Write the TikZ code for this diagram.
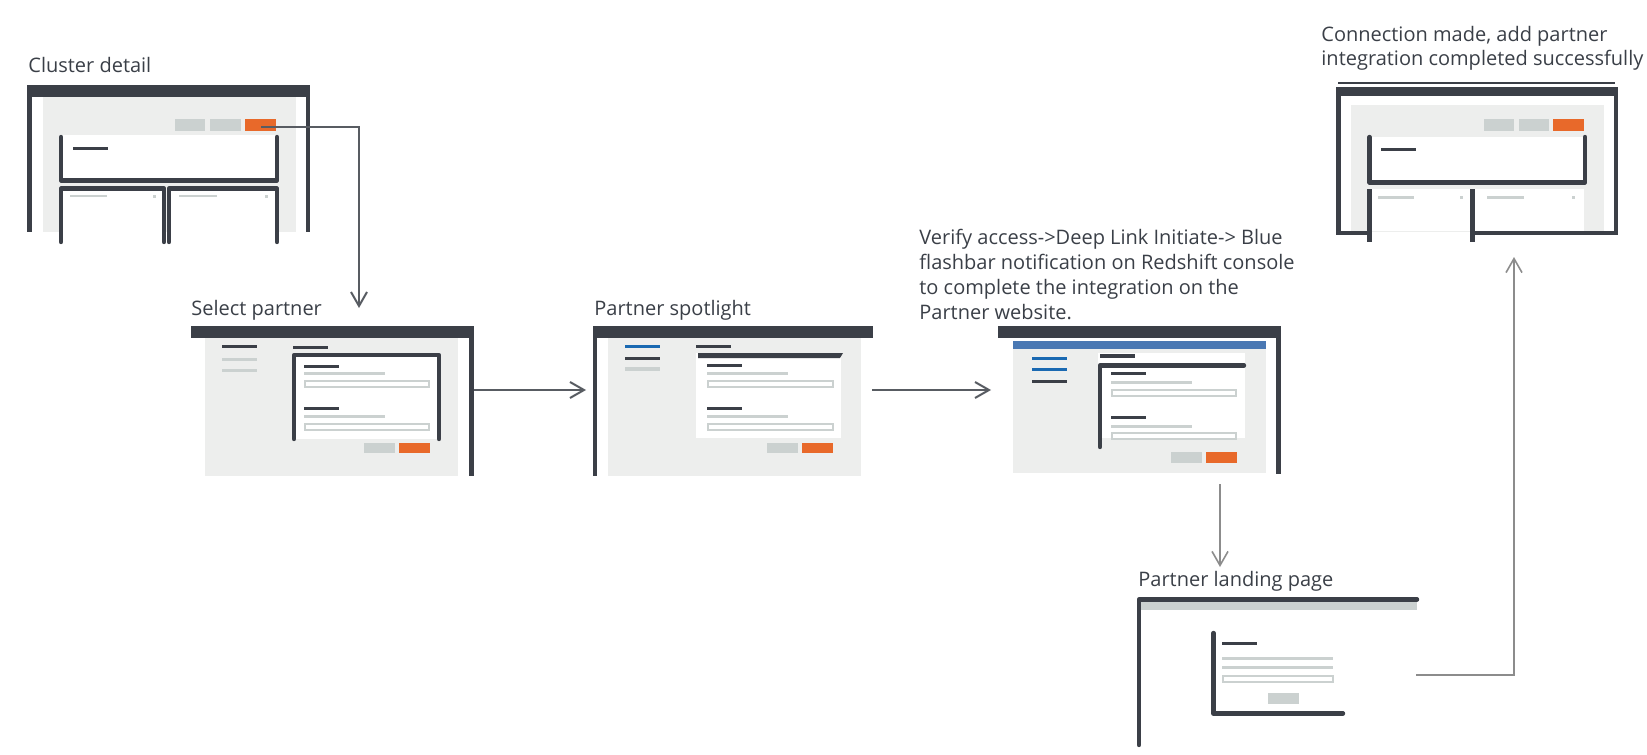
\documentclass[tikz,border=0pt]{standalone}
\usepackage{fontspec}
\setmainfont{Open Sans}
\usetikzlibrary{arrows.meta}

\definecolor{frame}{HTML}{3B3F47}
\definecolor{paneg}{HTML}{EDEEED}
\definecolor{lightg}{HTML}{CBD1D0}
\definecolor{accent}{HTML}{E8692A}
\definecolor{navblue}{HTML}{1A69B2}
\definecolor{flashblue}{HTML}{4A78B3}
\definecolor{txt}{HTML}{3A3F47}
\definecolor{arrowc}{HTML}{585C62}
\definecolor{arrowlt}{HTML}{8C8C8C}

\tikzset{
  dk/.style={fill=frame},
  pane/.style={fill=paneg},
  lt/.style={fill=lightg},
  org/.style={fill=accent},
  nav/.style={fill=navblue},
  field/.style={draw=lightg, line width=1pt, fill=white},
  edge/.style={draw=frame, line width=2.2pt, line cap=round, line join=round},
  title/.style={anchor=base west, inner sep=0pt, text=txt,
    font=\fontsize{10}{12.35}\selectfont, align=left},
  flow/.style={draw=arrowc, line width=1pt, -{Straight Barb[length=7pt,width=8pt]}},
  flowlt/.style={flow, draw=arrowlt, line width=0.8pt}
}

\begin{document}
\begin{tikzpicture}[x=0.5pt, y=-0.5pt]
\useasboundingbox (0,0) rectangle (1647,754);

% cluster detail
\node[title] (tcluster) at (28,73) {Cluster detail};
\fill[dk] (27,85) rectangle (310,97);
\fill[dk] (27,97) rectangle (32,232);
\fill[dk] (306,97) rectangle (310,232);
\fill[pane] (43,97) rectangle (296,232);
\fill[lt] (175,119) rectangle (205,131);
\fill[lt] (210,119) rectangle (241,131);
\fill[org] (245,119) rectangle (276,131);
\coordinate (cbtn) at (261,127);
\fill[white] (59,135) rectangle (279,183);
\draw[edge] (61,137) -- (61,180.5) -- (277,180.5) -- (277,137);
\fill[dk] (73,147) rectangle (108,150);
\fill[white] (59,186) rectangle (163,242);
\fill[white] (168,186) rectangle (279,242);
\draw[edge] (61,242) -- (61,188.5) -- (164,188.5) -- (164,242);
\draw[edge] (169,242) -- (169,188.5) -- (277,188.5) -- (277,242);
\fill[lt] (70,195) rectangle (107,197.5);
\fill[lt] (153,195) rectangle (156,198);
\fill[lt] (179,195) rectangle (217,197.5);
\fill[lt] (265,195) rectangle (268,198);

% select partner
\node[title] (tselect) at (191,315) {Select partner};
\coordinate (selin) at (359,308);
\fill[dk] (191,326) rectangle (470,338);
\fill[pane] (205,338) rectangle (458,476);
\fill[dk] (469,326) rectangle (474,476);
\fill[dk] (222,345) rectangle (257,348);
\fill[lt] (222,358) rectangle (257,361);
\fill[lt] (222,369) rectangle (257,372);
\fill[dk] (293,346) rectangle (328,349);
\fill[white] (292,353) rectangle (441,439);
\draw[edge] (294,439) -- (294,355) -- (439,355) -- (439,439);
\fill[dk] (304,365) rectangle (339,368);
\fill[lt] (304,372) rectangle (385,375);
\draw[field] (305,381) rectangle (429,387);
\fill[dk] (304,407) rectangle (339,410);
\fill[lt] (304,415) rectangle (385,418);
\draw[field] (305,424) rectangle (429,430);
\fill[lt] (364,443) rectangle (395,453);
\fill[org] (399,443) rectangle (430,453);
\coordinate (selout) at (474,390);

% partner spotlight
\node[title] (tspot) at (594,315) {Partner spotlight};
\coordinate (spotin) at (586,390);
\fill[dk] (593,326) rectangle (873,338);
\fill[dk] (593,338) rectangle (597,476);
\fill[pane] (608,338) rectangle (861,476);
\fill[nav] (625,345) rectangle (660,348);
\fill[dk] (625,357) rectangle (660,360);
\fill[lt] (625,367) rectangle (660,371);
\fill[dk] (696,345) rectangle (731,348);
\fill[white] (696,353) rectangle (841,438);
\fill[dk] (698,353) -- (843,353) -- (840,358) -- (698,358) -- cycle;
\fill[dk] (707,364) rectangle (742,367);
\fill[lt] (707,372) rectangle (788,375);
\draw[field] (708,381) rectangle (833,387);
\fill[dk] (707,407) rectangle (742,410);
\fill[lt] (707,415) rectangle (788,418);
\draw[field] (708,424) rectangle (833,430);
\fill[lt] (767,443) rectangle (798,453);
\fill[org] (802,443) rectangle (833,453);
\coordinate (spotout) at (872,390);

% verify access / deep link
\node[title] (tverify) at (919,319) {Verify access->Deep Link Initiate-> Blue\\
  flashbar notification on Redshift console\\
  to complete the integration on the\\
  Partner website.};
\coordinate (verin) at (991,390);
\fill[dk] (998,326) rectangle (1277,338);
\fill[dk] (1276,326) rectangle (1281,474);
\fill[flashblue] (1013,341) rectangle (1266,349);
\fill[pane] (1013,349) rectangle (1266,473);
\fill[nav] (1032,357) rectangle (1067,360);
\fill[nav] (1032,368) rectangle (1067,371);
\fill[dk] (1032,380) rectangle (1067,383);
\fill[white] (1098,353) rectangle (1245,438);
\fill[dk] (1100,354) rectangle (1135,358);
\draw[edge] (1100,447) -- (1100,365.5) -- (1244,365.5);
\fill[dk] (1111,372) rectangle (1146,375);
\fill[lt] (1111,381) rectangle (1192,384);
\draw[field] (1112,390) rectangle (1236,396);
\fill[dk] (1111,416) rectangle (1146,419);
\fill[lt] (1111,425) rectangle (1192,428);
\draw[field] (1112,433) rectangle (1236,439);
\fill[lt] (1171,452) rectangle (1202,463);
\fill[org] (1206,452) rectangle (1237,463);
\coordinate (verout) at (1220,484);

% partner landing page
\node[title] (tland) at (1138,586) {Partner landing page};
\coordinate (landin) at (1220,567);
\fill[lt] (1141,601) rectangle (1417,610);
\draw[edge] (1139,745) -- (1139,599.5) -- (1417,599.5);
\draw[edge] (1213.5,633) -- (1213.5,713.5) -- (1343,713.5);
\fill[dk] (1222,642) rectangle (1257,645);
\fill[lt] (1222,657) rectangle (1333,660);
\fill[lt] (1222,666) rectangle (1333,669);
\draw[field] (1223,676) rectangle (1333,682);
\fill[lt] (1268,693) rectangle (1299,704);
\coordinate (landout) at (1416,675);

% connection made
\node[title] (tdone) at (1321,66) {Connection made, add partner\\
  integration completed successfully};
\coordinate (donein) at (1514,257);
\draw[frame, line width=0.8pt] (1338,83) -- (1615,83);
\fill[dk] (1336,87) rectangle (1618,96);
\fill[dk] (1336,96) rectangle (1341,234);
\fill[dk] (1614,96) rectangle (1618,234);
\fill[pane] (1351,105) rectangle (1604,232);
\fill[dk] (1336,231) rectangle (1370,235);
\fill[dk] (1475,231) rectangle (1618,235);
\fill[lt] (1484,119) rectangle (1514,131);
\fill[lt] (1519,119) rectangle (1549,131);
\fill[org] (1553,119) rectangle (1584,131);
\fill[white] (1367,137) rectangle (1587,185);
\draw[edge] (1369.5,137) -- (1369.5,182.5) -- (1585,182.5) -- (1585,137);
\fill[dk] (1381,148) rectangle (1416,151);
\fill[white] (1372,189) rectangle (1470,231);
\fill[white] (1475,189) rectangle (1584,231);
\fill[dk] (1367,189) rectangle (1372,242);
\fill[dk] (1470,189) rectangle (1475,242);
\fill[lt] (1378,196) rectangle (1414,199);
\fill[lt] (1460,196) rectangle (1463,199);
\fill[lt] (1487,196) rectangle (1524,199);
\fill[lt] (1572,196) rectangle (1575,199);

\draw[flow] (cbtn) -| (selin);
\draw[flow] (selout) -- (spotin);
\draw[flow] (spotout) -- (verin);
\draw[flowlt] (verout) -- (landin);
\draw[flowlt] (landout) -| (donein);
\end{tikzpicture}
\end{document}
